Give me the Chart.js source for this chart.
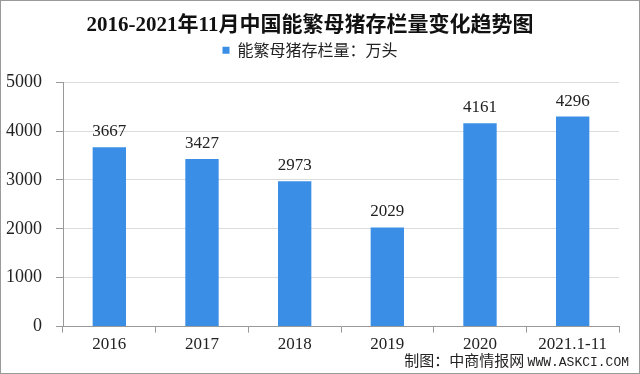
<!DOCTYPE html>
<html lang="zh">
<head>
<meta charset="UTF-8">
<title>2016-2021年11月中国能繁母猪存栏量变化趋势图</title>
<script src="https://cdn.jsdelivr.net/npm/chart.js"></script>
<style>
  html, body { margin: 0; padding: 0; background: #fff; }
  .wrap { position: relative; width: 640px; height: 374px; box-sizing: border-box; border: 1px solid #9a9a9a; }
  canvas { display: block; }
  .credit { position: absolute; right: 10px; bottom: 3px; font: 15px "Noto Sans CJK SC", sans-serif; color: #222; }
  .credit span { font-family: "Liberation Mono", monospace; font-size: 13px; }
</style>
</head>
<body>
<div class="wrap">
  <canvas id="chart" width="638" height="372"></canvas>
  <div class="credit">制图：中商情报网 <span>WWW.ASKCI.COM</span></div>
</div>
<script>
// data
const years = ['2016', '2017', '2018', '2019', '2020', '2021.1-11'];
const sowStock = [3667, 3427, 2973, 2029, 4161, 4296];
const yTicks = [0, 1000, 2000, 3000, 4000, 5000];

const serif = "'Liberation Serif', 'Noto Sans CJK SC', serif";

// value labels above bars
const barLabels = {
    id: 'barLabels',
    afterDatasetsDraw(chart) {
        const ctx = chart.ctx;
        const meta = chart.getDatasetMeta(0);
        ctx.save();
        ctx.font = '17px ' + serif;
        ctx.fillStyle = '#222';
        ctx.textAlign = 'center';
        ctx.textBaseline = 'bottom';
        meta.data.forEach((bar, i) => {
            ctx.fillText(String(sowStock[i]), bar.x, bar.y - 7);
        });
        ctx.restore();
    }
};

// extra room under the legend
const legendGap = {
    id: 'legendGap',
    beforeInit(chart) {
        const fit = chart.legend.fit;
        chart.legend.fit = function () {
            fit.bind(chart.legend)();
            this.height += 14;
        };
    }
};

new Chart(document.getElementById('chart'), {
    type: 'bar',
    data: {
        labels: years,
        datasets: [{
            label: '能繁母猪存栏量：万头',
            data: sowStock,
            backgroundColor: '#3a8ee6',
            categoryPercentage: 1,
            barPercentage: 0.36
        }]
    },
    options: {
        responsive: false,
        animation: false,
        layout: { padding: { left: 0, right: 20, top: 4, bottom: 16 } },
        plugins: {
            title: {
                display: true,
                text: '2016-2021年11月中国能繁母猪存栏量变化趋势图',
                color: '#111',
                font: { family: serif, size: 21, weight: 'bold' },
                padding: { top: 8, bottom: 0 }
            },
            legend: {
                labels: {
                    color: '#222',
                    boxWidth: 7,
                    boxHeight: 7,
                    padding: 4,
                    font: { family: "'Noto Sans CJK SC', sans-serif", size: 16 }
                }
            },
            tooltip: { enabled: false }
        },
        scales: {
            x: {
                grid: { offset: true, drawOnChartArea: false, tickLength: 6, color: '#999' },
                border: { color: '#999' },
                ticks: { color: '#222', padding: 2, font: { family: serif, size: 17 } }
            },
            y: {
                min: 0,
                max: 5000,
                afterBuildTicks(axis) { axis.ticks = yTicks.map(v => ({ value: v })); },
                afterFit(axis) { axis.width = 62; },
                grid: { color: '#dcdcdc', tickLength: 7, tickColor: '#999' },
                border: { color: '#999' },
                ticks: {
                    color: '#222',
                    padding: 14,
                    font: { family: serif, size: 18 },
                    callback: v => String(v)
                }
            }
        }
    },
    plugins: [barLabels, legendGap]
});
</script>
</body>
</html>
